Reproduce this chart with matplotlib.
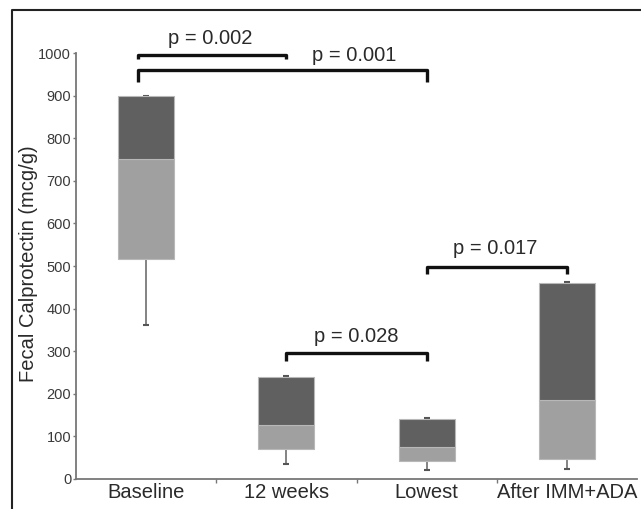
import matplotlib
matplotlib.use("Agg")
import matplotlib.pyplot as plt
from matplotlib.lines import Line2D

plt.rcParams['font.family'] = ['Liberation Sans', 'DejaVu Sans']

categories = ["Baseline", "12 weeks", "Lowest", "After IMM+ADA"]
mins = [361, 35, 21, 23]
q1 = [516, 70, 43, 47]
medians = [751, 127, 76, 185]
q3 = [898, 239, 141, 460]
maxs = [900, 241, 143, 462]

yticks = [0, 100, 200, 300, 400, 500, 600, 700, 800, 900, 1000]

# comparisons between groups
comp_left = [0, 0, 1, 2]
comp_left_off = [-0.06, -0.06, 0.0, 0.0]
comp_right = [1, 2, 2, 3]
comp_level = [995, 960, 296, 498]
comp_drop = [8, 27, 18, 16]
comp_label = ["p = 0.002", "p = 0.001", "p = 0.028", "p = 0.017"]
comp_tx = [0.46, 1.48, 1.50, 2.49]
comp_ty = [1035, 995, 334, 542]

W, H = 641, 509
fig = plt.figure(figsize=(W / 100, H / 100), dpi=100)
ax = fig.add_axes([76 / W, (H - 479) / H, (637 - 76) / W, (479 - 53) / H])

dark = '#606060'
light = '#a0a0a0'
edge = '#b8b8b8'
x = list(range(len(categories)))
bw = 0.4
lower_h = [m - a for m, a in zip(medians, q1)]
upper_h = [b - m for b, m in zip(q3, medians)]
ax.bar(x, lower_h, bottom=q1, width=bw, color=light, edgecolor=edge, linewidth=0.8, zorder=3)
ax.bar(x, upper_h, bottom=medians, width=bw, color=dark, edgecolor=edge, linewidth=0.8, zorder=3)
ax.vlines(x, mins, q1, color='#7a7a7a', linewidth=1.3, zorder=2)
ax.hlines(mins, [i - 0.022 for i in x], [i + 0.022 for i in x], color='#555555', linewidth=1.5, zorder=2)
ax.hlines(maxs, [i - 0.022 for i in x], [i + 0.022 for i in x], color='#555555', linewidth=1.5, zorder=2)

ax.set_xlim(-0.5, 3.5)
ax.set_ylim(0, 1000)
ax.set_yticks(yticks)
ax.set_yticklabels([str(t) for t in yticks], fontsize=10.5, color='#3a3a3a')
ax.set_xticks(x)
ax.set_xticklabels(categories, fontsize=14.5, color='#2a2a2a')
ax.tick_params(axis='x', which='major', length=0, pad=3)
ax.set_xticks([0.5, 1.5, 2.5], minor=True)
ax.tick_params(axis='x', which='minor', length=3, color='#777777', width=1)
ax.tick_params(axis='y', length=2.5, color='#777777', width=1, pad=1)
for s in ['top', 'right']:
    ax.spines[s].set_visible(False)
for s in ['left', 'bottom']:
    ax.spines[s].set_color('#777777')
    ax.spines[s].set_linewidth(1.3)

fig.text(29 / W, 1 - 264 / H, "Fecal Calprotectin (mcg/g)", rotation=90,
         ha='center', va='center', fontsize=14.5, color='#2a2a2a')

for l, lo, r, lev, d, lab, tx, ty in zip(comp_left, comp_left_off, comp_right, comp_level,
                                         comp_drop, comp_label, comp_tx, comp_ty):
    xl = l + lo
    ax.plot([xl, xl, r, r], [lev - d, lev, lev, lev - d], color='#111111', linewidth=2.4,
            clip_on=False, solid_joinstyle='round', solid_capstyle='butt', zorder=4)
    ax.text(tx, ty, lab, ha='center', va='center', fontsize=14.5, color='#2a2a2a', clip_on=False)

# outer frame (left and top)
fig.add_artist(Line2D([11.5 / W, 11.5 / W, 1.0], [0.0, 1 - 10 / H, 1 - 10 / H],
                      transform=fig.transFigure, color='#222222', linewidth=1.5))

fig.savefig("out.png", dpi=100)
